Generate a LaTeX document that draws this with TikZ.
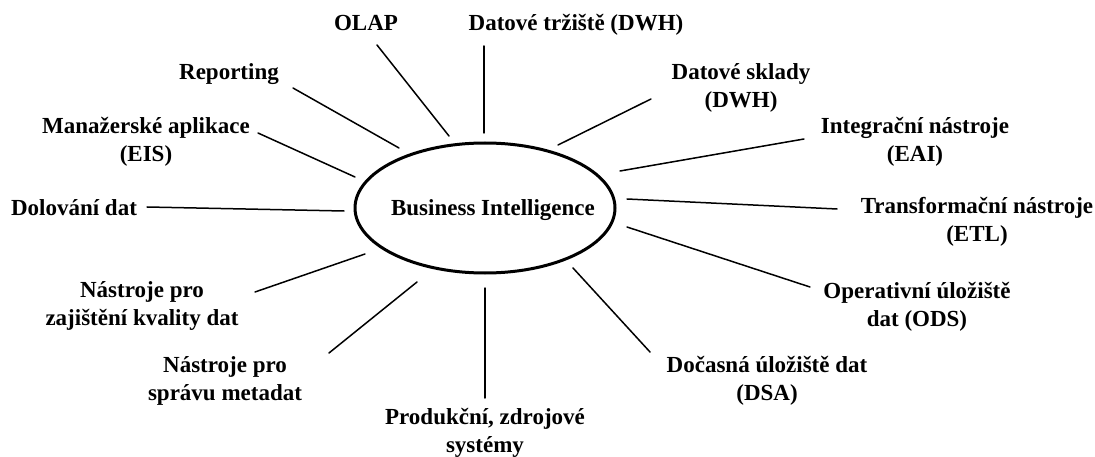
\documentclass[tikz,border=0pt]{standalone}
\usepackage{fontspec}
\setmainfont{Liberation Serif}
\begin{document}
\begin{tikzpicture}[x=1pt,y=-1pt,
  lbl/.style={font=\fontsize{23}{28}\selectfont\bfseries, align=center, inner sep=0pt, anchor=base},
  spoke/.style={line width=1.5pt, line cap=round},
  hub/.style={line width=3pt}]
\useasboundingbox (0,0) rectangle (1095,457);

% central ellipse
\draw[hub] (485,208) ellipse [x radius=130, y radius=65];
\node[lbl] (bi) at (493,216) {Business Intelligence};

% surrounding labels (placed at the baseline of their last line)
\node[lbl] (olap) at (366,31) {OLAP};
\node[lbl] (dmart) at (576,31) {Datové tržiště (DWH)};
\node[lbl] (rep) at (229,80) {Reporting};
\node[lbl] (dwh) at (741,108) {Datové sklady\\(DWH)};
\node[lbl] (eis) at (146,162) {Manažerské aplikace\\(EIS)};
\node[lbl] (eai) at (915,162) {Integrační nástroje\\(EAI)};
\node[lbl] (dm) at (74,215) {Dolování dat};
\node[lbl] (etl) at (977,241) {Transformační nástroje\\(ETL)};
\node[lbl] (dq) at (142,325) {Nástroje pro\\zajištění kvality dat};
\node[lbl] (ods) at (917,326) {Operativní úložiště\\dat (ODS)};
\node[lbl] (meta) at (225,400) {Nástroje pro\\správu metadat};
\node[lbl] (dsa) at (767,400) {Dočasná úložiště dat\\(DSA)};
\node[lbl] (src) at (485,452) {Produkční, zdrojové\\systémy};

% spoke end points (outer / inner)
\coordinate (olapA) at (377,45);  \coordinate (olapB) at (449,136);
\coordinate (dmartA) at (484,46); \coordinate (dmartB) at (484,133);
\coordinate (repA) at (293,88);   \coordinate (repB) at (399,148);
\coordinate (dwhA) at (651,99);   \coordinate (dwhB) at (558,145);
\coordinate (eisA) at (258,133);  \coordinate (eisB) at (355,177);
\coordinate (eaiA) at (804,139);  \coordinate (eaiB) at (620,171);
\coordinate (dmA) at (147,207);   \coordinate (dmB) at (344,211);
\coordinate (etlA) at (837,209);  \coordinate (etlB) at (627,199);
\coordinate (dqA) at (255,292);   \coordinate (dqB) at (365,254);
\coordinate (odsA) at (810,287);  \coordinate (odsB) at (627,227);
\coordinate (metaA) at (329,353); \coordinate (metaB) at (417,282);
\coordinate (dsaA) at (650,352);  \coordinate (dsaB) at (573,268);
\coordinate (srcA) at (485,398);  \coordinate (srcB) at (485,288);

% spokes
\foreach \s in {olap,dmart,rep,dwh,eis,eai,dm,etl,dq,ods,meta,dsa,src}
  \draw[spoke] (\s A) -- (\s B);
\end{tikzpicture}
\end{document}
